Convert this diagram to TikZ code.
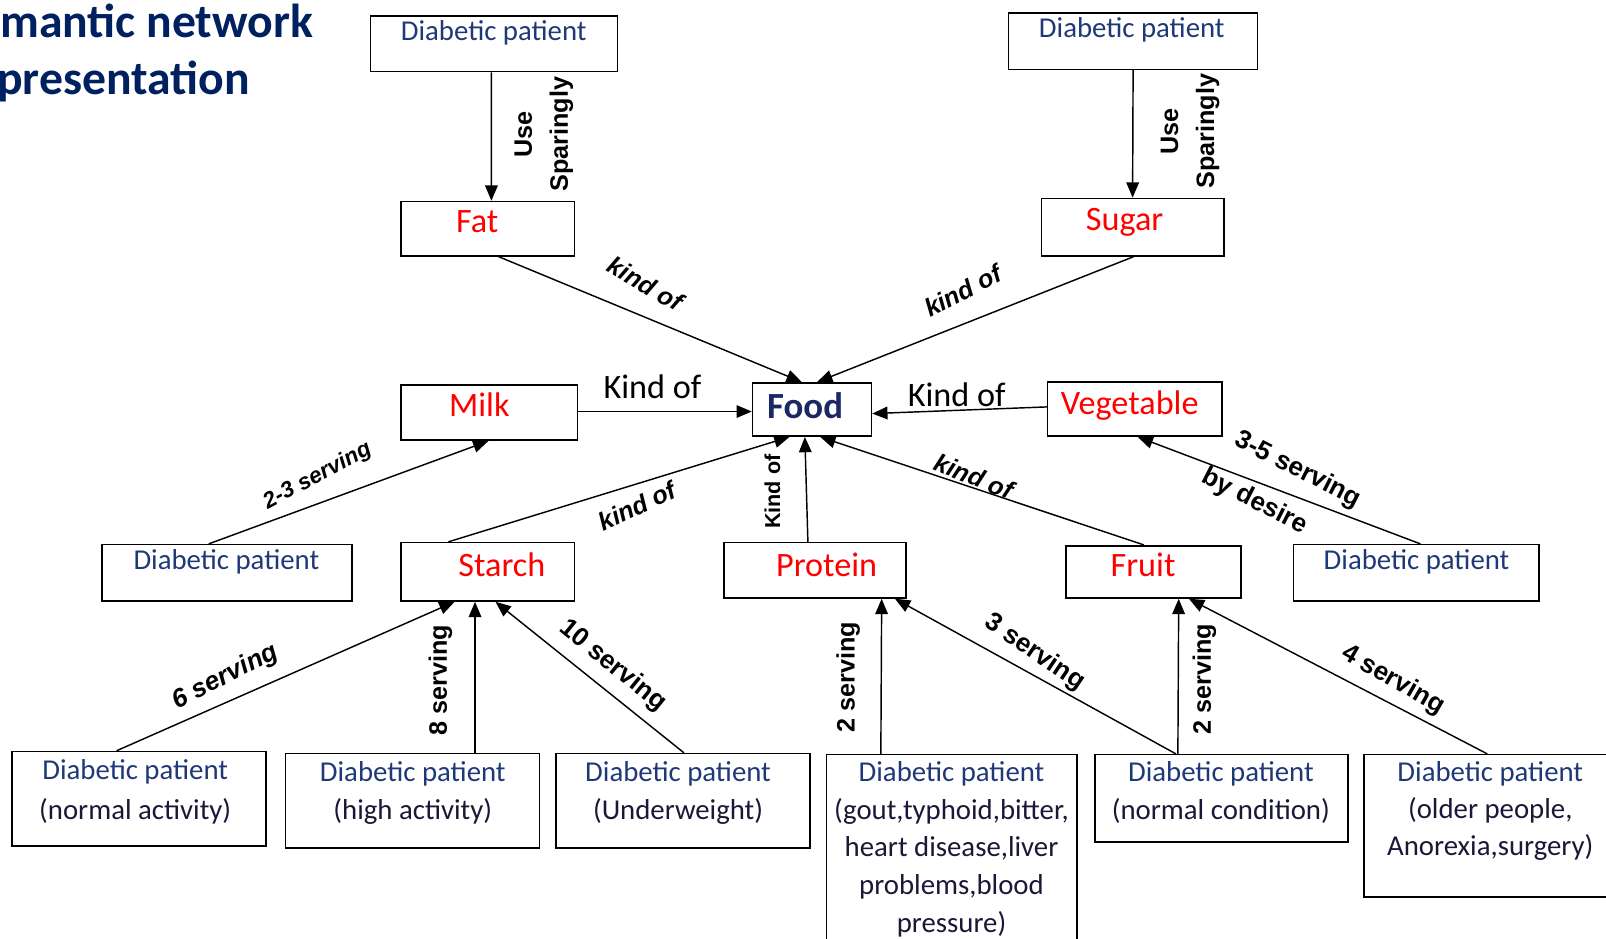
\documentclass[tikz,border=0pt]{standalone}
\usepackage{fontspec}
\setmainfont{Carlito}
\newfontfamily\arialf{Liberation Sans}
\usetikzlibrary{arrows.meta}
\definecolor{navy}{RGB}{0,32,96}
\definecolor{dpblue}{RGB}{31,56,120}
\definecolor{dpdark}{RGB}{25,25,55}
\definecolor{itemred}{RGB}{255,0,0}
\definecolor{foodblue}{RGB}{28,40,100}
\def\pxu{0.02cm}
\newcommand\mkbox[5]{\node[pbox, minimum width={(#4-#2)*0.02cm}, minimum height={(#5-#3)*0.02cm}] (#1) at (#2,#3) {};}
\tikzset{
  pbox/.style={draw=black, line width=0.9pt, inner sep=0pt, anchor=north west},
  dptext/.style={text=dpblue, font=\fontsize{16}{19}\selectfont, anchor=base, inner sep=0pt},
  dpmulti/.style={text=dpblue, font=\fontsize{16}{21}\selectfont, anchor=north, inner sep=0pt, align=center},
  item/.style={text=itemred, font=\fontsize{19}{22}\selectfont, anchor=base, inner sep=0pt},
  arr/.style={-{Triangle[length=8.5pt,width=7pt]}, line width=0.8pt},
  vlab/.style={font=\arialf\bfseries\fontsize{14}{20}\selectfont, rotate=90, inner sep=0pt, align=center},
  klab/.style={font=\arialf\bfseries\itshape\fontsize{14}{16}\selectfont, inner sep=0pt},
  slab/.style={font=\arialf\bfseries\fontsize{14.5}{17}\selectfont, inner sep=0pt},
  hlab/.style={font=\fontsize{19}{22}\selectfont, inner sep=0pt},
}
\begin{document}
\begin{tikzpicture}[x=0.02cm, y=-0.02cm]
\useasboundingbox (0,0) rectangle (1568,916);
% title
\node[anchor=base west, text=navy, font=\bfseries\fontsize{26.5}{30}\selectfont, inner sep=0pt] (title1) at (0,37) {mantic network};
\node[anchor=base west, text=navy, font=\bfseries\fontsize{26.5}{30}\selectfont, inner sep=0pt] (title2) at (-3,92) {presentation};
% boxes
\mkbox{dp1}{361}{15}{602}{69}
\mkbox{fat}{391}{196}{560}{249}
\mkbox{dp2}{984}{12}{1227}{67}
\mkbox{sugar}{1016}{193}{1194}{249}
\mkbox{milk}{391}{375}{563}{429}
\mkbox{food}{734}{373}{850}{425}
\mkbox{veg}{1022}{372}{1192}{425}
\mkbox{dpml}{99}{531}{343}{586}
\mkbox{starch}{391}{529}{560}{586}
\mkbox{protein}{706}{529}{884}{583}
\mkbox{fruit}{1040}{532}{1211}{583}
\mkbox{dpmr}{1262}{531}{1502}{586}
\mkbox{na}{11}{733}{259}{825}
\mkbox{ha}{278}{735}{526}{827}
\mkbox{uw}{542}{735}{790}{827}
\mkbox{gout}{806}{736}{1051}{940}
\mkbox{nc}{1068}{736}{1315}{821}
\mkbox{op}{1331}{736}{1600}{875}
% box texts
\node[dptext] (dp1t) at (482,40) {Diabetic patient};
\node[dptext] (dp2t) at (1105,37) {Diabetic patient};
\node[dptext] (dpmlt) at (221,556) {Diabetic patient};
\node[dptext] (dpmrt) at (1383,556) {Diabetic patient};
\node[item] (fatt) at (466,227) {Fat};
\node[item] (sugart) at (1098,225) {Sugar};
\node[item] (milkt) at (468,407) {Milk};
\node[item] (vegt) at (1103,405) {Vegetable};
\node[item] (starcht) at (490,563) {Starch};
\node[item] (proteint) at (807,563) {Protein};
\node[item] (fruitt) at (1116,563) {Fruit};
\node[anchor=base, text=foodblue, font=\bfseries\fontsize{20.5}{24}\selectfont, inner sep=0pt] (foodt) at (786,409) {Food};
\node[dpmulti, font=\fontsize{16}{22.5}\selectfont] (nat) at (132,741) {Diabetic patient\\\textcolor{dpdark}{(normal activity)}};
\node[dpmulti] (hat) at (403,743) {Diabetic patient\\\textcolor{dpdark}{(high activity)}};
\node[dpmulti] (uwt) at (662,743) {Diabetic patient\\\textcolor{dpdark}{(Underweight)}};
\node[dpmulti] (goutt) at (929,743) {Diabetic patient\\\textcolor{dpdark}{(gout,typhoid,bitter,}\\\textcolor{dpdark}{heart disease,liver}\\\textcolor{dpdark}{problems,blood}\\\textcolor{dpdark}{pressure)}};
\node[dpmulti] (nct) at (1192,743) {Diabetic patient\\\textcolor{dpdark}{(normal condition)}};
\node[dpmulti, font=\fontsize{16}{20.5}\selectfont] (opt) at (1455,743) {Diabetic patient\\\textcolor{dpdark}{(older people,}\\\textcolor{dpdark}{Anorexia,surgery)}};
% connectors
\draw[arr] ([xshift=-2.5*\pxu]dp1.south) -- ([xshift=3.5*\pxu]fat.north);
\draw[arr] (dp2.south) -- (sugar.north);
\draw[arr] ([xshift=10.5*\pxu]fat.south) -- ([xshift=-10*\pxu]food.north);
\draw[arr] ([xshift=1*\pxu]sugar.south) -- ([xshift=5*\pxu]food.north);
\draw[arr] ([yshift=1*\pxu]milk.east) -- ([yshift=-2*\pxu]food.west);
\draw[arr] ([yshift=2*\pxu]veg.west) -- ([yshift=-4*\pxu]food.east);
\draw[arr] ([xshift=-18*\pxu]dpml.north) -- ([xshift=-1*\pxu]milk.south);
\draw[arr] ([xshift=-38.5*\pxu]starch.north) -- ([xshift=-22*\pxu]food.south);
\draw[arr] ([xshift=-7*\pxu]protein.north) -- ([xshift=-7*\pxu]food.south);
\draw[arr] ([xshift=-9.5*\pxu]fruit.north) -- ([xshift=8*\pxu]food.south);
\draw[arr] ([xshift=4*\pxu]dpmr.north) -- ([xshift=3*\pxu]veg.south);
\draw[arr] ([xshift=-22*\pxu]na.north) -- ([xshift=-32.5*\pxu]starch.south);
\draw[arr] ([xshift=61*\pxu]ha.north) -- ([xshift=-12.5*\pxu]starch.south);
\draw[arr] ([xshift=1*\pxu]uw.north) -- ([xshift=7.5*\pxu]starch.south);
\draw[arr] ([xshift=54*\pxu]gout.north west) -- ([xshift=65*\pxu]protein.south);
\draw[arr] ([xshift=80*\pxu]nc.north west) -- ([xshift=78*\pxu]protein.south);
\draw[arr] ([xshift=82*\pxu]nc.north west) -- ([xshift=24.5*\pxu]fruit.south);
\draw[arr] ([xshift=121*\pxu]op.north west) -- ([xshift=34.5*\pxu]fruit.south);
% labels
\node[vlab] (us1) at (531,131) {Use\\Sparingly};
\node[vlab] (us2) at (1162,128) {Use\\Sparingly};
\node[klab, rotate=-30] (k1) at (630,277) {kind of};
\node[klab, rotate=27] (k2) at (940,284) {kind of};
\node[hlab] (k3) at (637,378) {Kind of};
\node[hlab] (k4) at (934,385) {Kind of};
\node[font=\arialf\bfseries\itshape\fontsize{12.5}{15}\selectfont, inner sep=0pt, rotate=28] (l23) at (310,465) {2-3 serving};
\node[klab, rotate=25] (k5) at (622,494) {kind of};
\node[vlab, font=\arialf\bfseries\fontsize{12}{14}\selectfont] (k6) at (754,480) {Kind of};
\node[klab, rotate=-22] (k7) at (951,465) {kind of};
\node[slab, rotate=-27] (l35) at (1267,459) {3-5 serving};
\node[slab, rotate=-27] (lbd) at (1225,490) {by desire};
\node[klab, font=\arialf\bfseries\itshape\fontsize{14.5}{17}\selectfont, rotate=27] (l6) at (220,661) {6 serving};
\node[vlab] (l8) at (430,664) {8 serving};
\node[slab, rotate=-39] (l10) at (598,650) {10 serving};
\node[vlab] (l2a) at (828,661) {2 serving};
\node[slab, rotate=-34] (l3) at (1010,637) {3 serving};
\node[vlab] (l2b) at (1176,663) {2 serving};
\node[slab, rotate=-30] (l4) at (1360,664) {4 serving};
\end{tikzpicture}
\end{document}
